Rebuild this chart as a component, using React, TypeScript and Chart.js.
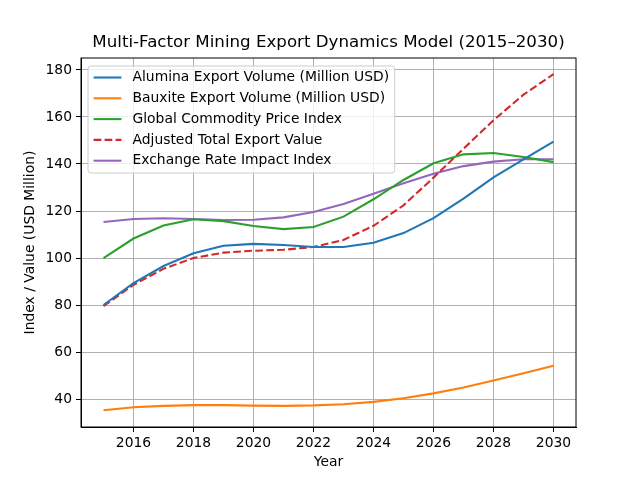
import React, { useEffect, useRef } from "react";
import { Chart, registerables } from "chart.js";

Chart.register(...registerables);

const years = [2015, 2016, 2017, 2018, 2019, 2020, 2021, 2022, 2023, 2024, 2025, 2026, 2027, 2028, 2029, 2030];
const alumina = [80, 89.3, 96.6, 102, 105.2, 106, 105.5, 104.7, 104.7, 106.5, 110.6, 117, 125.3, 134.3, 142, 149.5];
const bauxite = [35.2, 36.5, 37.1, 37.4, 37.4, 37.2, 37.1, 37.3, 37.8, 38.8, 40.3, 42.4, 44.9, 47.9, 51, 54.2];
const commodity = [100, 108.3, 113.8, 116.5, 115.7, 113.6, 112.3, 113.2, 117.6, 125, 133.2, 140.3, 144.1, 144.7, 143, 140.8];
const adjusted = [79.5, 88.6, 95.4, 100, 102.3, 103.1, 103.5, 104.7, 107.7, 113.7, 122.4, 134.2, 146.5, 158.6, 169.5, 178.2];
const exchange = [115.3, 116.6, 116.9, 116.6, 116.2, 116.3, 117.3, 119.6, 123, 127.3, 131.8, 135.9, 139.1, 141, 142, 142];
const xTicks = [2016, 2018, 2020, 2022, 2024, 2026, 2028, 2030];
const yTicks = [40, 60, 80, 100, 120, 140, 160, 180];
const titleText = "Multi-Factor Mining Export Dynamics Model (2015–2030)";

const FONT = "DejaVu Sans";
const FS = 13.89;
const TFS = 16.67;

const framePlugin = {
  id: "frameLegend",
  afterDraw(chart: any) {
    const { ctx, chartArea: a } = chart;
    ctx.save();
    ctx.strokeStyle = "#000";
    ctx.lineWidth = 1;
    ctx.setLineDash([]);
    ctx.strokeRect(a.left, a.top, a.right - a.left, a.bottom - a.top);

    // title
    ctx.font = `${TFS}px "${FONT}"`;
    ctx.fillStyle = "#000";
    ctx.textAlign = "center";
    ctx.textBaseline = "middle";
    ctx.fillText(titleText, (a.left + a.right) / 2, 43);

    // legend
    ctx.font = `${FS}px "${FONT}"`;
    const ds = chart.data.datasets;
    const maxW = Math.max(...ds.map((d: any) => ctx.measureText(d.label).width));
    const bx = a.left + 7;
    const by = a.top + 8;
    const textOff = 44.5;
    const bw = textOff + maxW + 5.6;
    const rowH = 20.8;
    const bh = 107;
    ctx.beginPath();
    (ctx as any).roundRect(bx, by, bw, bh, 3);
    ctx.fillStyle = "rgba(255,255,255,0.8)";
    ctx.fill();
    ctx.strokeStyle = "#cccccc";
    ctx.lineWidth = 1;
    ctx.stroke();
    ds.forEach((d: any, i: number) => {
      const y = by + 11.5 + i * rowH;
      ctx.beginPath();
      ctx.strokeStyle = d.borderColor;
      ctx.lineWidth = 2.08;
      ctx.setLineDash(d.borderDash || []);
      ctx.moveTo(bx + 5.6, y);
      ctx.lineTo(bx + 33.4, y);
      ctx.stroke();
      ctx.setLineDash([]);
      ctx.fillStyle = "#000";
      ctx.textBaseline = "middle";
      ctx.textAlign = "left";
      ctx.fillText(d.label, bx + textOff, y);
    });
    ctx.restore();
  },
};

export default function App() {
  const ref = useRef<HTMLCanvasElement>(null);
  useEffect(() => {
    if (!ref.current) return;
    Chart.defaults.font.family = FONT;
    Chart.defaults.color = "#000";
    const mk = (label: string, data: number[], color: string, dash?: number[]) => ({
      label,
      data: years.map((y, i) => ({ x: y, y: data[i] })),
      borderColor: color,
      backgroundColor: color,
      borderWidth: 2.08,
      borderDash: dash,
      pointRadius: 0,
      tension: 0,
      fill: false,
    });
    const chart = new Chart(ref.current, {
      type: "line",
      data: {
        datasets: [
          mk("Alumina Export Volume (Million USD)", alumina, "#1f77b4"),
          mk("Bauxite Export Volume (Million USD)", bauxite, "#ff7f0e"),
          mk("Global Commodity Price Index", commodity, "#2ca02c"),
          mk("Adjusted Total Export Value", adjusted, "#d62728", [7.7, 3.3]),
          mk("Exchange Rate Impact Index", exchange, "#9467bd"),
        ],
      },
      options: {
        animation: false,
        responsive: false,
        devicePixelRatio: 1,
        layout: { padding: { left: 0, right: 64, top: 58, bottom: 0 } },
        plugins: {
          legend: { display: false },
          tooltip: { enabled: false },
          title: { display: false },
        },
        scales: {
          x: {
            type: "linear",
            min: 2014.25,
            max: 2030.75,
            afterBuildTicks: (s: any) => {
              s.ticks = xTicks.map((v) => ({ value: v }));
            },
            afterFit: (s: any) => {
              s.height = 53;
            },
            ticks: {
              font: { size: FS, family: FONT },
              color: "#000",
              padding: 3,
              maxRotation: 0,
              callback: (v: any) => String(v),
            },
            grid: { color: "#b0b0b0", lineWidth: 1, tickLength: 5, tickColor: "#000" },
            border: { display: true, color: "#000" },
            title: {
              display: true,
              text: "Year",
              font: { size: FS, family: FONT },
              color: "#000",
              padding: { top: 0, bottom: 9 },
            },
          },
          y: {
            type: "linear",
            min: 28.1,
            max: 185.1,
            afterBuildTicks: (s: any) => {
              s.ticks = yTicks.map((v) => ({ value: v }));
            },
            afterFit: (s: any) => {
              s.width = 81;
            },
            ticks: {
              font: { size: FS, family: FONT },
              color: "#000",
              padding: 4,
              callback: (v: any) => String(v),
            },
            grid: { color: "#b0b0b0", lineWidth: 1, tickLength: 5, tickColor: "#000" },
            border: { display: true, color: "#000" },
            title: {
              display: true,
              text: "Index / Value (USD Million)",
              font: { size: FS, family: FONT },
              color: "#000",
              padding: { top: 22.5, bottom: 0 },
            },
          },
        },
      },
      plugins: [framePlugin],
    } as any);
    return () => chart.destroy();
  }, []);
  return (
    <div style={{ position: "fixed", left: 0, top: 0, width: 640, height: 480, background: "#fff" }}>
      <canvas ref={ref} width={640} height={480} style={{ width: 640, height: 480 }} />
    </div>
  );
}
